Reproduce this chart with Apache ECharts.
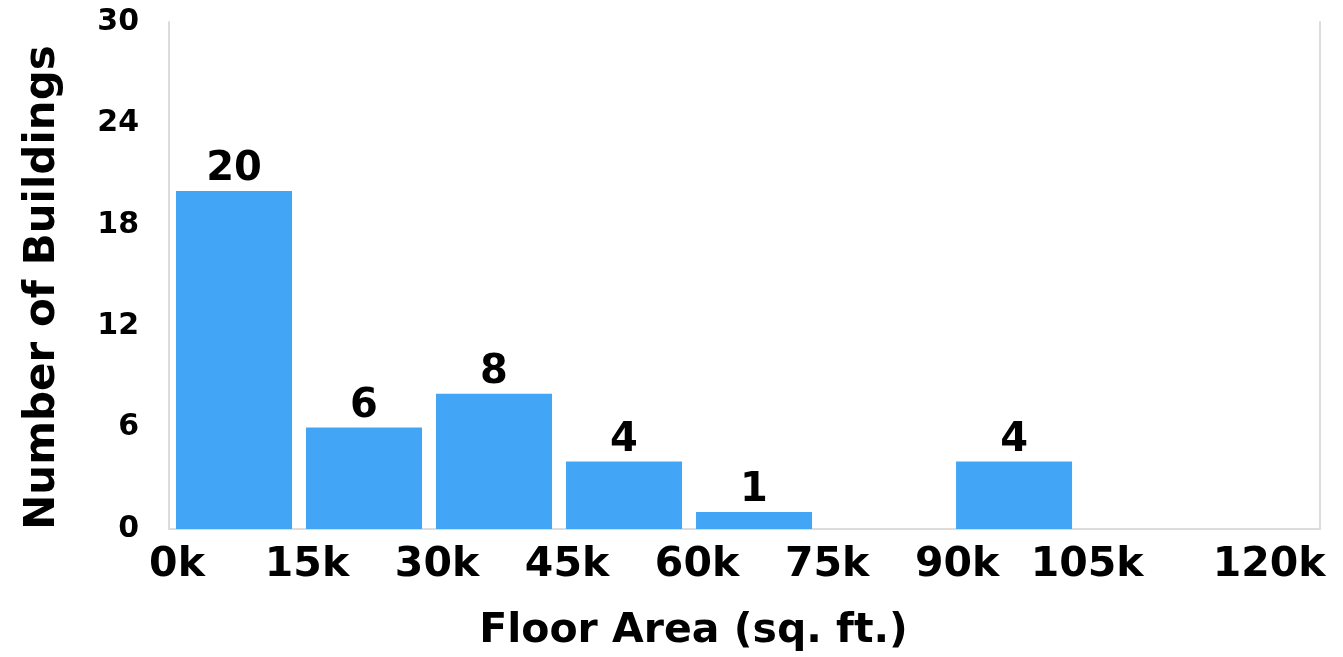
<!DOCTYPE html>
<html>
<head>
<meta charset="utf-8">
<script src="https://cdn.jsdelivr.net/npm/echarts@6/dist/echarts.min.js"></script>
<style>
html,body{margin:0;padding:0;background:#fff;}
#chart{width:1343px;height:657px;}
</style>
</head>
<body>
<div id="chart"></div>
<script>
// Data
const binStarts = [0, 15, 30, 45, 60, 75, 90, 105];   // thousand sq. ft.
const binWidth = 15;
const counts = [20, 6, 8, 4, 1, 0, 4, 0];
const xTickValues = [0, 15, 30, 45, 60, 75, 90, 105, 120];
const yTicks = [0, 6, 12, 18, 24, 30];
const xTitle = 'Floor Area (sq. ft.)';
const yTitle = 'Number of Buildings';

const FONT = '"DejaVu Sans", "Liberation Sans", Arial, sans-serif';
const barData = binStarts.map((s, i) => [s + binWidth / 2, counts[i]]);
const lastTick = xTickValues[xTickValues.length - 1];

const chart = echarts.init(document.getElementById('chart'), null, {renderer: 'canvas'});
chart.setOption({
  animation: false,
  backgroundColor: '#ffffff',
  grid: {left: 169, right: 23, top: 22, bottom: 128, containLabel: false},
  xAxis: {
    type: 'value',
    min: 0,
    max: 132.8,
    interval: 15,
    name: xTitle,
    nameLocation: 'middle',
    nameGap: 82,
    nameTextStyle: {fontFamily: FONT, fontWeight: 'bold', fontSize: 41, color: '#000', padding: [0, 102, 0, 0]},
    axisLine: {show: true, lineStyle: {color: '#dcdcdc', width: 2}},
    axisTick: {show: false},
    splitLine: {show: false},
    axisLabel: {
      margin: 16,
      fontFamily: FONT, fontWeight: 'bold', fontSize: 41, color: '#000',
      formatter: v => !xTickValues.includes(v) ? '' :
        (v === lastTick ? '{e|' + v + 'k}' : '{n|' + v + 'k}'),
      rich: {
        n: {fontFamily: FONT, fontWeight: 'bold', fontSize: 41, color: '#000', padding: [0, 0, 0, 16]},
        e: {fontFamily: FONT, fontWeight: 'bold', fontSize: 41, color: '#000', padding: [0, 0, 0, 120]}
      }
    }
  },
  yAxis: [{
    type: 'value',
    min: yTicks[0],
    max: yTicks[yTicks.length - 1],
    interval: 6,
    name: yTitle,
    nameLocation: 'middle',
    nameGap: 105,
    nameTextStyle: {fontFamily: FONT, fontWeight: 'bold', fontSize: 42, color: '#000', padding: [0, 24, 0, 0]},
    axisLine: {show: true, lineStyle: {color: '#dcdcdc', width: 2}},
    axisTick: {show: false},
    splitLine: {show: false},
    axisLabel: {margin: 30, fontFamily: FONT, fontWeight: 'bold', fontSize: 30, color: '#000'}
  }, {
    type: 'value',
    position: 'right',
    min: yTicks[0],
    max: yTicks[yTicks.length - 1],
    interval: 6,
    axisLine: {show: true, lineStyle: {color: '#dcdcdc', width: 2}},
    axisTick: {show: false},
    axisLabel: {show: false},
    splitLine: {show: false}
  }],
  series: [{
    type: 'bar',
    yAxisIndex: 0,
    data: barData,
    barWidth: 116,
    itemStyle: {color: '#42A5F5'},
    label: {
      show: true,
      position: 'top',
      distance: 1,
      fontFamily: FONT, fontWeight: 'bold', fontSize: 40, color: '#000',
      formatter: p => p.value[1] === 0 ? '' : String(p.value[1])
    }
  }]
});
</script>
</body>
</html>
